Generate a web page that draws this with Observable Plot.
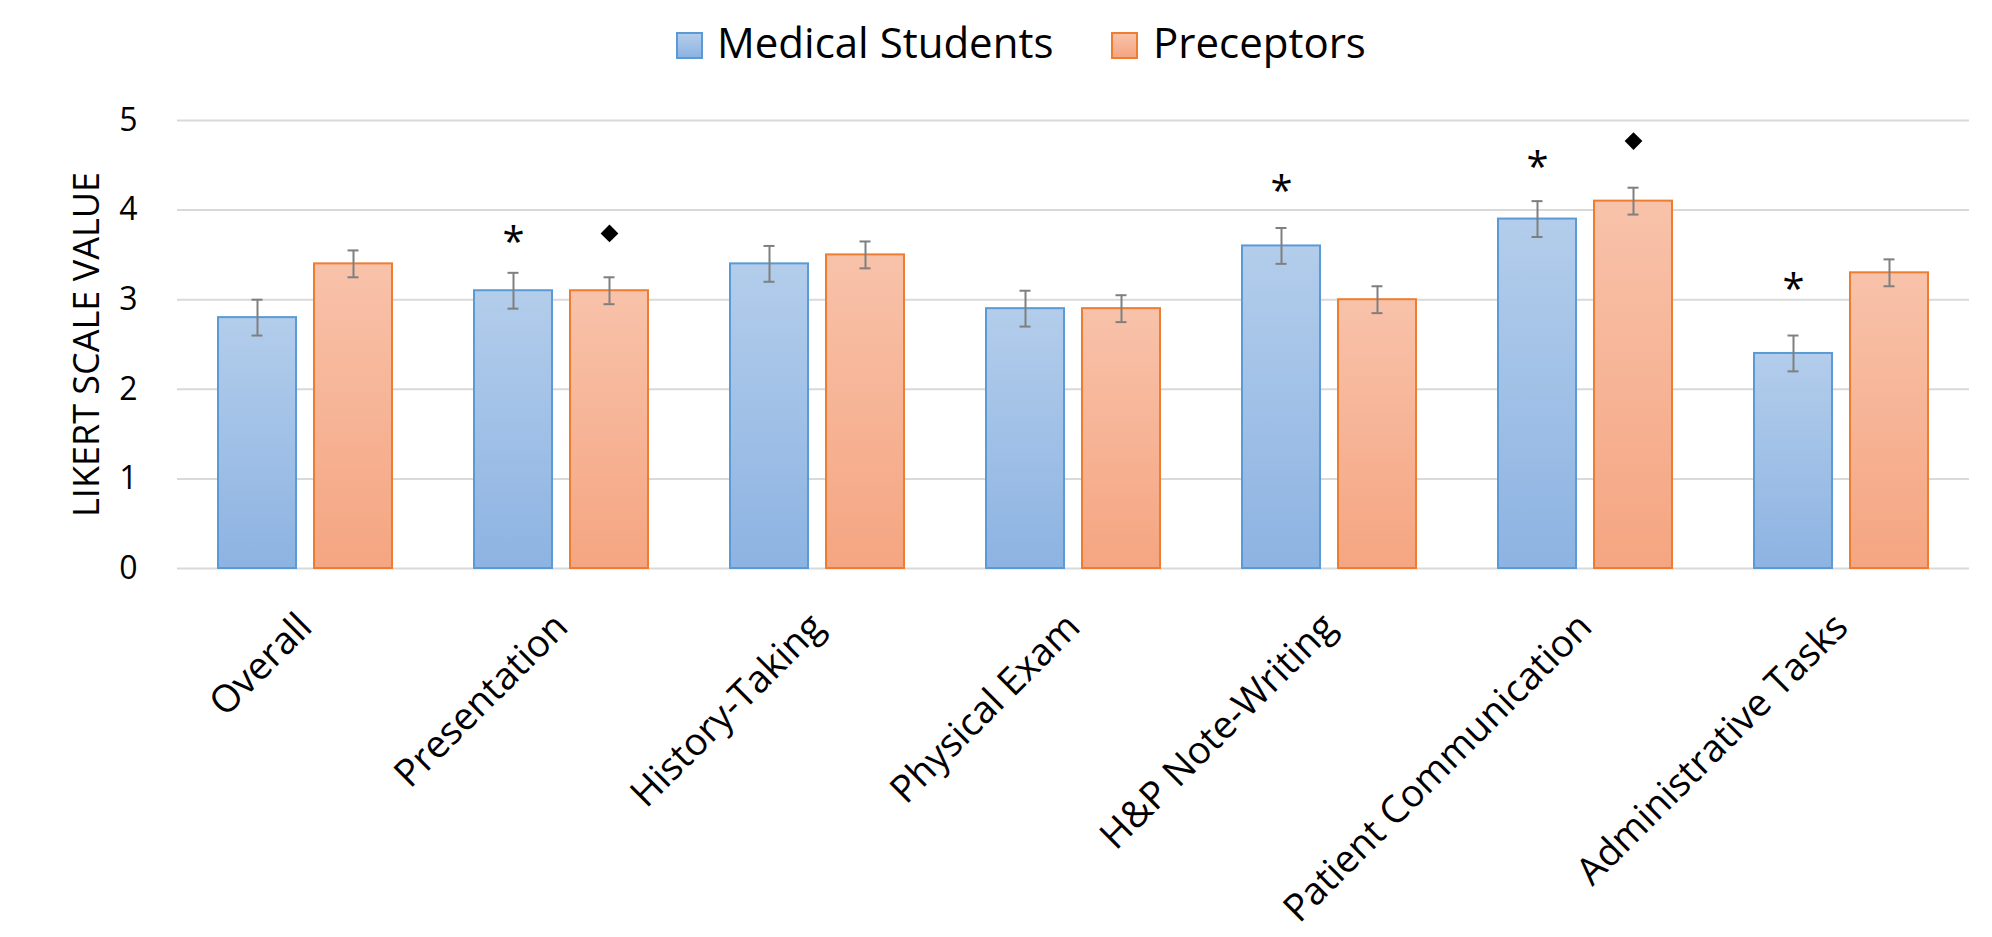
<!DOCTYPE html>
<html><head><meta charset="utf-8">
<script src="https://cdn.jsdelivr.net/npm/d3@7"></script>
<script src="https://cdn.jsdelivr.net/npm/@observablehq/plot@0.6"></script>
<style>
html,body{margin:0;padding:0;background:#fff;overflow:hidden}
body{font-family:"Open Sans",sans-serif;width:1992px;height:937px}
#legend{position:relative;height:80px}
.sw{position:absolute;top:32px;width:27px;height:27px;box-sizing:border-box;border:2px solid}
.lt{position:absolute;top:21px;font-size:42px;line-height:42px;color:#000;white-space:nowrap}
</style></head><body>
<div id="legend"></div>
<div id="chart"></div>
<script>
const categories = ["Overall","Presentation","History-Taking","Physical Exam","H&P Note-Writing","Patient Communication","Administrative Tasks"];
const seriesNames = ["Medical Students","Preceptors"];
const studentMeans = [2.8,3.1,3.4,2.9,3.6,3.9,2.4];
const studentErrors = [0.2,0.2,0.2,0.2,0.2,0.2,0.2];
const preceptorMeans = [3.4,3.1,3.5,2.9,3.0,4.1,3.3];
const preceptorErrors = [0.15,0.15,0.15,0.15,0.15,0.15,0.15];
const yTicks = [0,1,2,3,4,5];
const yTickLabels = ["0","1","2","3","4","5"];
const yLabel = "LIKERT SCALE VALUE";
// significance markers (position of marker)
const asteriskCategories = ["Presentation","H&P Note-Writing","Patient Communication","Administrative Tasks"];
const asteriskY = [3.75,4.32,4.59,3.23];
const diamondCategories = ["Presentation","Patient Communication"];
const diamondY = [3.74,4.77];

const seriesFill = ["url(#gradStudents)","url(#gradPreceptors)"];
const seriesStroke = ["#5B9BD5","#ED7D31"];
const seriesGrad = [["#B3CDEB","#8DB3E2"],["#F8C2AA","#F5A581"]];

const rows = categories.flatMap((c,i)=>[
  {category:c, series:seriesNames[0], value:studentMeans[i], lo:studentMeans[i]-studentErrors[i], hi:studentMeans[i]+studentErrors[i]},
  {category:c, series:seriesNames[1], value:preceptorMeans[i], lo:preceptorMeans[i]-preceptorErrors[i], hi:preceptorMeans[i]+preceptorErrors[i]}
]);
const asterisks = asteriskCategories.map((c,i)=>({category:c, series:seriesNames[0], y:asteriskY[i]}));
const diamonds = diamondCategories.map((c,i)=>({category:c, series:seriesNames[1], y:diamondY[i]}));

// legend
const legend = document.getElementById("legend");
const legendPos = [[676,717],[1111,1153]];
seriesNames.forEach((s,i)=>{
  const sw = document.createElement("div");
  sw.className = "sw";
  sw.style.left = legendPos[i][0]+"px";
  sw.style.borderColor = seriesStroke[i];
  sw.style.background = `linear-gradient(${seriesGrad[i][0]}, ${seriesGrad[i][1]})`;
  legend.appendChild(sw);
  const t = document.createElement("div");
  t.className = "lt";
  t.style.left = legendPos[i][1]+"px";
  t.textContent = s;
  legend.appendChild(t);
});

const errStyle = {stroke:"#7F7F7F", strokeWidth:2};
const plot = Plot.plot({
  width:1992, height:857,
  marginTop:40, marginBottom:369, marginLeft:177, marginRight:23,
  style:{fontFamily:'"Open Sans", sans-serif', color:"#000", background:"#fff"},
  fx:{domain:categories, padding:0, label:null},
  x:{domain:seriesNames, paddingInner:0.1856, paddingOuter:0.4124, axis:null},
  y:{domain:[0,5], label:null},
  marks:[
    Plot.gridY(yTicks, {stroke:"#D9D9D9", strokeOpacity:1, strokeWidth:2}),
    ...seriesNames.map((s,i)=>Plot.barY(rows, {filter:d=>d.series===s, fx:"category", x:"series", y:"value", fill:seriesFill[i], stroke:seriesStroke[i], strokeWidth:2})),
    Plot.ruleX(rows, {fx:"category", x:"series", y1:"lo", y2:"hi", ...errStyle}),
    Plot.tickY(rows, {fx:"category", x:"series", y:"hi", insetLeft:33.5, insetRight:33.5, ...errStyle}),
    Plot.tickY(rows, {fx:"category", x:"series", y:"lo", insetLeft:33.5, insetRight:33.5, ...errStyle}),
    Plot.text(asterisks, {fx:"category", x:"series", y:"y", text:()=>"*", fontSize:40, dy:11, fill:"#000"}),
    Plot.dot(diamonds, {fx:"category", x:"series", y:"y", symbol:"diamond2", r:8, fill:"#000", stroke:"none"}),
    Plot.axisY(yTicks, {tickSize:0, tickPadding:40, fontSize:32, label:null, tickFormat:(d)=>yTickLabels[yTicks.indexOf(d)]}),
    Plot.axisY({ticks:[], tickSize:0, label:yLabel, labelAnchor:"center", labelOffset:104, labelArrow:"none", fontSize:36}),
    Plot.axisFx({anchor:"bottom", tickRotate:-45, tickSize:0, tickPadding:52, fontSize:38, label:null})
  ]
});
const svg = plot.tagName.toLowerCase()==="svg" ? plot : plot.querySelector("svg");
const defs = d3.select(svg).insert("defs", ":first-child");
[["gradStudents",seriesGrad[0]],["gradPreceptors",seriesGrad[1]]].forEach(([id,[top,bottom]])=>{
  const g = defs.append("linearGradient").attr("id",id).attr("x1",0).attr("y1",0).attr("x2",0).attr("y2",1);
  g.append("stop").attr("offset","0%").attr("stop-color",top);
  g.append("stop").attr("offset","100%").attr("stop-color",bottom);
});
document.getElementById("chart").appendChild(plot);
</script>
</body></html>
